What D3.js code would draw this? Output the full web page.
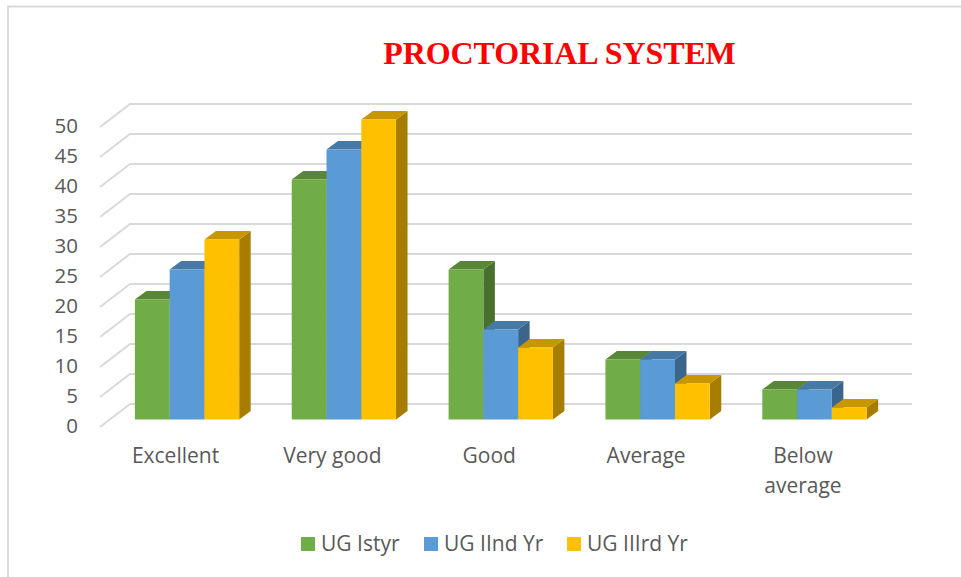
<!DOCTYPE html>
<html>
<head>
<meta charset="utf-8">
<script src="https://cdn.jsdelivr.net/npm/d3@7"></script>
<style>
  html, body { margin: 0; padding: 0; background: #fff; }
  svg { display: block; }
  text { font-family: "Open Sans", sans-serif; fill: #595959; }
</style>
</head>
<body>
<script>
const categories = ["Excellent", "Very good", "Good", "Average", "Below average"];
const seriesNames = ["UG Istyr", "UG IInd Yr", "UG IIIrd Yr"];
const seriesColors = ["#70ad47", "#5b9bd5", "#ffc000"];
const istYr = [20, 40, 25, 10, 5];
const iindYr = [25, 45, 15, 10, 5];
const iiirdYr = [30, 50, 12, 6, 2];
const yTicks = [0, 5, 10, 15, 20, 25, 30, 35, 40, 45, 50];
const allSeries = [istYr, iindYr, iiirdYr];

const width = 961, height = 577;
const depthX = 11.5, depthY = 8.5;   // bar depth

const svg = d3.select("body").append("svg")
    .attr("width", width)
    .attr("height", height);

// frame, only top and left are visible in the picture
svg.append("path")
    .attr("d", "M8,577V6.5H961")
    .attr("fill", "none")
    .attr("stroke", "#d9d9d9")
    .attr("stroke-width", 2);

svg.append("text")
    .attr("x", 559.5)
    .attr("y", 64)
    .attr("text-anchor", "middle")
    .style("font-family", "'Liberation Serif', serif")
    .style("font-weight", "bold")
    .style("font-size", "32px")
    .style("letter-spacing", "-0.1px")
    .style("fill", "#ff0000")
    .text("PROCTORIAL SYSTEM");

const y = d3.scaleLinear().domain([0, 50]).range([419.5, 119.5]);
const x0 = d3.scaleBand().domain(categories).range([109, 892.5]).paddingInner(0.335).paddingOuter(0.165);
const x1 = d3.scaleBand().domain(d3.range(seriesNames.length)).range([0, x0.bandwidth()]);

// gridlines: back wall plus the slanted floor/side piece
svg.append("g").selectAll("path")
    .data(yTicks)
    .enter().append("path")
    .attr("d", d => `M100,${y(d) + 7.5}L130,${y(d) - 15.5}H912`)
    .attr("fill", "none")
    .attr("stroke", "#d9d9d9")
    .attr("stroke-width", 2);

// value axis
svg.append("g")
    .attr("transform", "translate(78,6)")
    .call(d3.axisLeft(y).tickValues(yTicks).tickSize(0).tickPadding(0))
    .call(g => g.select(".domain").remove())
    .selectAll("text")
    .style("font-family", "'Open Sans', sans-serif")
    .style("font-size", "20.5px")
    .style("fill", "#595959");

// category axis
const catAxis = svg.append("g")
    .attr("transform", `translate(${-depthX},${y(0)})`)
    .call(d3.axisBottom(x0).tickSize(0).tickPadding(0));
catAxis.select(".domain").remove();
catAxis.selectAll("text").each(function(d) {
  const words = d === "Below average" ? ["Below", "average"] : [d];
  const t = d3.select(this).text(null).attr("y", 0).attr("dy", null)
      .style("font-family", "'Open Sans', sans-serif")
      .style("font-size", "21px")
      .style("fill", "#595959");
  words.forEach((w, i) => t.append("tspan").attr("x", 0).attr("y", 43 + i * 30).text(w));
});

// bars, left to right so each one overlaps the side of the previous
const groups = svg.append("g").selectAll("g")
    .data(categories)
    .enter().append("g")
    .attr("transform", d => `translate(${x0(d)},0)`);

groups.each(function(cat, ci) {
  const g = d3.select(this);
  allSeries.forEach((values, si) => {
    const color = d3.rgb(seriesColors[si]);
    const shade = k => d3.rgb(color.r * k, color.g * k, color.b * k).formatHex();
    const left = x1(si), right = left + x1.bandwidth();
    const top = y(values[ci]), bottom = y(0);
    g.append("path")
        .attr("d", `M${right},${bottom}V${top}l${depthX},${-depthY}V${bottom - depthY}Z`)
        .attr("fill", shade(0.65));
    g.append("path")
        .attr("d", `M${left},${top}H${right}l${depthX},${-depthY}H${left + depthX}Z`)
        .attr("fill", shade(0.78));
    g.append("rect")
        .attr("x", left)
        .attr("y", top)
        .attr("width", x1.bandwidth())
        .attr("height", bottom - top)
        .attr("fill", seriesColors[si]);
  });
});

// legend
const legendX = d3.scaleOrdinal().domain(seriesNames).range([301, 424, 567]);
const legend = svg.append("g").selectAll("g")
    .data(seriesNames)
    .enter().append("g")
    .attr("transform", d => `translate(${legendX(d)},537)`);
legend.append("rect")
    .attr("width", 14)
    .attr("height", 14)
    .attr("fill", (d, i) => seriesColors[i]);
legend.append("text")
    .attr("x", 20)
    .attr("y", 13.5)
    .style("font-size", "21px")
    .text(d => d);
</script>
</body>
</html>
